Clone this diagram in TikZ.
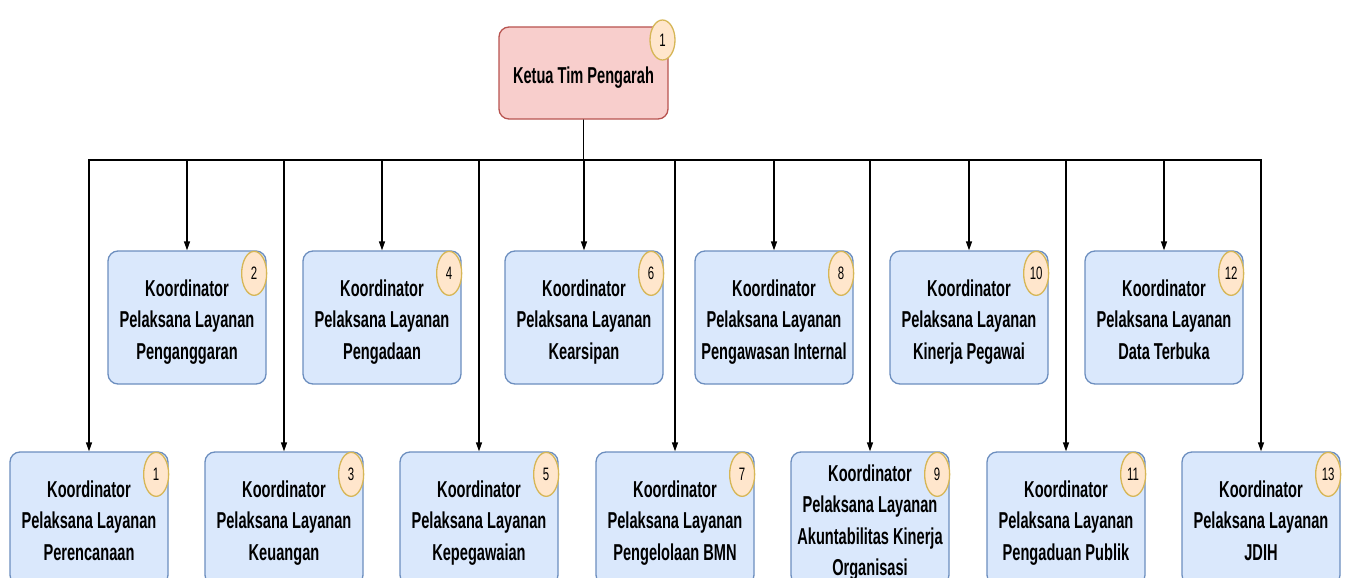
\documentclass[tikz,border=0pt]{standalone}
\usepackage{fontspec}
\usetikzlibrary{arrows.meta,shapes.geometric}
\newfontfamily\boxfont{Liberation Sans}[FakeStretch=0.635]

\definecolor{headfill}{HTML}{F8CECC}
\definecolor{headline}{HTML}{B85450}
\definecolor{unitfill}{HTML}{DAE8FC}
\definecolor{unitline}{HTML}{6C8EBF}
\definecolor{badgefill}{HTML}{FFE6CC}
\definecolor{badgeline}{HTML}{D6B656}

\tikzset{
  unitbox/.style={draw=unitline, fill=unitfill, line width=1.3pt, rounded corners=10pt,
    minimum width=158pt, minimum height=133pt, inner sep=0pt, align=center,
    font=\boxfont\bfseries\fontsize{23}{31.5}\selectfont},
  headbox/.style={unitbox, draw=headline, fill=headfill, minimum width=169pt, minimum height=92pt},
  badge/.style={ellipse, draw=badgeline, fill=badgefill, line width=1.3pt,
    minimum width=25pt, minimum height=44pt, inner sep=0pt,
    font=\boxfont\fontsize{18}{18}\selectfont},
  conn/.style={draw=black, line width=1.3pt, -{Triangle[length=9pt,width=6pt]}},
}

% fixed top and bottom struts keep every text block on the same baselines
\newcommand{\boxlines}[1]{\rule{0pt}{25pt}#1\rule[-5pt]{0pt}{5pt}}
\newcommand{\unitbadge}[2]{\node[badge] (b#1) at ([xshift=-12.5pt,yshift=-23pt]#1.north east) {#2};}

\begin{document}
\begin{tikzpicture}[x=1pt,y=-1pt]
  \clip (0,0) rectangle (1352,578);
  \fill[white] (0,0) rectangle (1352,578);

  % head of the team
  \node[headbox] (head) at (583.5,73) {\boxlines{Ketua Tim Pengarah}};
  \node[badge, minimum height=40pt] (bhead) at (662.5,40) {1};

  % upper row of coordinators
  \node[unitbox] (u2)  at (187,317.5)  {\boxlines{Koordinator\\Pelaksana Layanan\\Penganggaran}};
  \node[unitbox] (u4)  at (382,317.5)  {\boxlines{Koordinator\\Pelaksana Layanan\\Pengadaan}};
  \node[unitbox] (u6)  at (584,317.5)  {\boxlines{Koordinator\\Pelaksana Layanan\\Kearsipan}};
  \node[unitbox] (u8)  at (774,317.5)  {\boxlines{Koordinator\\Pelaksana Layanan\\Pengawasan Internal}};
  \node[unitbox] (u10) at (969,317.5)  {\boxlines{Koordinator\\Pelaksana Layanan\\Kinerja Pegawai}};
  \node[unitbox] (u12) at (1164,317.5) {\boxlines{Koordinator\\Pelaksana Layanan\\Data Terbuka}};

  % lower row of coordinators
  \node[unitbox] (u1)  at (89,518.5)   {\boxlines{Koordinator\\Pelaksana Layanan\\Perencanaan}};
  \node[unitbox] (u3)  at (284,518.5)  {\boxlines{Koordinator\\Pelaksana Layanan\\Keuangan}};
  \node[unitbox] (u5)  at (479,518.5)  {\boxlines{Koordinator\\Pelaksana Layanan\\Kepegawaian}};
  \node[unitbox] (u7)  at (675,518.5)  {\boxlines{Koordinator\\Pelaksana Layanan\\Pengelolaan BMN}};
  \node[unitbox] (u9)  at (870,518.5)  {\boxlines{Koordinator\\Pelaksana Layanan\\Akuntabilitas Kinerja\\Organisasi}};
  \node[unitbox] (u11) at (1066,518.5) {\boxlines{Koordinator\\Pelaksana Layanan\\Pengaduan Publik}};
  \node[unitbox] (u13) at (1261,518.5) {\boxlines{Koordinator\\Pelaksana Layanan\\JDIH}};

  % number badges
  \foreach \n in {1,...,13} { \unitbadge{u\n}{\n} }

  % connectors from the head through the bus line
  \coordinate (bus) at (head.south |- 0,160);
  \foreach \n in {1,...,13} {
    \draw[conn] (head.south) -- (bus) -| (u\n.north);
  }
\end{tikzpicture}
\end{document}
